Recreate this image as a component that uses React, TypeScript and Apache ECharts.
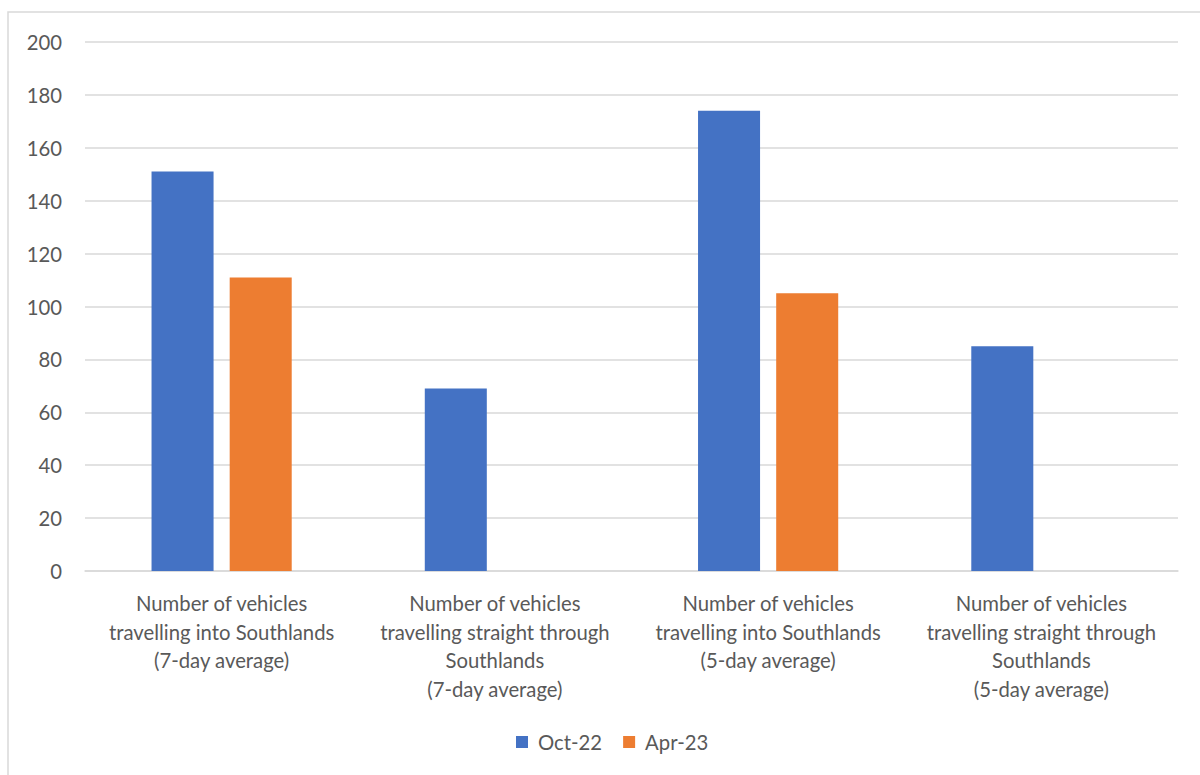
import React, { useEffect, useRef } from "react";
import * as echarts from "echarts";

const categories = [
  "Number of vehicles\ntravelling into Southlands\n(7-day average)",
  "Number of vehicles\ntravelling straight through\nSouthlands\n(7-day average)",
  "Number of vehicles\ntravelling into Southlands\n(5-day average)",
  "Number of vehicles\ntravelling straight through\nSouthlands\n(5-day average)",
];
const oct22 = [151, 69, 174, 85];
const apr23: (number | null)[] = [111, null, 105, null];
const seriesNames = ["Oct-22", "Apr-23"];

const FONT = "Lato, 'Open Sans', sans-serif";
const TEXT = "#595959";

export default function App() {
  const ref = useRef<HTMLDivElement>(null);
  useEffect(() => {
    if (!ref.current) return;
    const chart = echarts.init(ref.current, null, { renderer: "svg" });
    chart.setOption({
      animation: false,
      backgroundColor: "#ffffff",
      textStyle: { fontFamily: FONT },
      graphic: [
        {
          type: "rect",
          shape: { x: 8, y: 12, width: 1300, height: 900 },
          style: { fill: "none", stroke: "#d9d9d9", lineWidth: 1.5 },
          silent: true,
        },
      ],
      grid: { left: 85, right: 22, top: 42, bottom: 204, containLabel: false },
      legend: {
        bottom: 18,
        left: 511,
        itemWidth: 12,
        itemHeight: 12,
        itemGap: 21,
        icon: "rect",
        textStyle: {
          color: TEXT,
          fontSize: 20.3,
          fontFamily: FONT,
          padding: [0, 0, 0, 5],
        },
        data: seriesNames,
      },
      xAxis: {
        type: "category",
        data: categories,
        axisLine: { show: true, lineStyle: { color: "#d9d9d9", width: 1.5 } },
        axisTick: { show: false },
        axisLabel: {
          color: TEXT,
          fontSize: 20.3,
          fontFamily: FONT,
          lineHeight: 28.5,
          margin: 18,
          interval: 0,
        },
      },
      yAxis: {
        type: "value",
        min: 0,
        max: 200,
        interval: 20,
        axisLine: { show: false },
        axisTick: { show: false },
        splitLine: { lineStyle: { color: "#d9d9d9", width: 1.5 } },
        axisLabel: { color: TEXT, fontSize: 20.3, fontFamily: FONT, margin: 23 },
      },
      series: [
        {
          name: seriesNames[0],
          type: "bar",
          data: oct22,
          itemStyle: { color: "#4472c4" },
          barGap: "26%",
          barCategoryGap: "48.7%",
        },
        {
          name: seriesNames[1],
          type: "bar",
          data: apr23,
          itemStyle: { color: "#ed7d31" },
          barGap: "26%",
          barCategoryGap: "48.7%",
        },
      ],
    });
    return () => chart.dispose();
  }, []);
  return (
    <div
      ref={ref}
      style={{ position: "fixed", left: 0, top: 0, width: 1200, height: 775 }}
    />
  );
}
